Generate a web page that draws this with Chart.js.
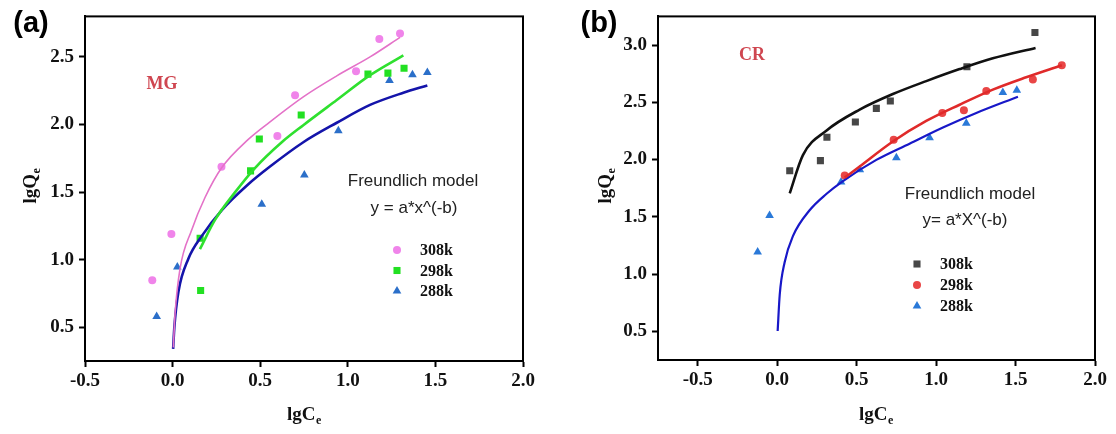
<!DOCTYPE html>
<html>
<head>
<meta charset="utf-8">
<script src="https://cdn.jsdelivr.net/npm/chart.js@4.4.0/dist/chart.umd.min.js"></script>
<style>
  html, body { margin: 0; padding: 0; background: #fff; }
  #wrapA { position: absolute; left: 0; top: 0; width: 556px; height: 434px; }
  #wrapB { position: absolute; left: 556px; top: 0; width: 560px; height: 434px; }
</style>
</head>
<body>
<div id="wrapA"><canvas id="chartA" width="556" height="434"></canvas></div>
<div id="wrapB"><canvas id="chartB" width="560" height="434"></canvas></div>
<script>
// ---- tick labels ----
const xTicks = [-0.5, 0.0, 0.5, 1.0, 1.5, 2.0];
const yTicksA = [0.5, 1.0, 1.5, 2.0, 2.5];
const yTicksB = [0.5, 1.0, 1.5, 2.0, 2.5, 3.0];

// ---- panel (a) MG : measured points ----
const mg308X = [-0.116, -0.007, 0.279, 0.598, 0.699, 1.047, 1.180, 1.298];
const mg308Y = [0.848, 1.189, 1.687, 1.915, 2.217, 2.395, 2.632, 2.673];
const mg298X = [0.160, 0.157, 0.445, 0.495, 0.734, 1.115, 1.229, 1.321];
const mg298Y = [0.772, 1.158, 1.657, 1.893, 2.070, 2.373, 2.380, 2.416];
const mg288X = [-0.091, 0.027, 0.509, 0.752, 0.946, 1.238, 1.369, 1.454];
const mg288Y = [0.579, 0.945, 1.410, 1.627, 1.954, 2.325, 2.368, 2.385];

// ---- panel (a) MG : fitted curves ----
const mgFit308X = [0.004, 0.014, 0.042, 0.109, 0.185, 0.280, 0.432, 0.556, 0.746, 0.937, 1.127, 1.298];
const mgFit308Y = [0.35, 0.60, 0.93, 1.22, 1.46, 1.68, 1.89, 2.02, 2.205, 2.36, 2.50, 2.645];
const mgFit298X = [0.156, 0.242, 0.356, 0.470, 0.623, 0.746, 0.937, 1.127, 1.317];
const mgFit298Y = [1.078, 1.294, 1.498, 1.678, 1.869, 1.995, 2.181, 2.365, 2.512];
const mgFit288X = [0.003, 0.010, 0.033, 0.090, 0.166, 0.280, 0.432, 0.556, 0.746, 0.937, 1.127, 1.317, 1.454];
const mgFit288Y = [0.34, 0.50, 0.76, 1.006, 1.174, 1.365, 1.558, 1.689, 1.869, 2.013, 2.145, 2.235, 2.289];

// ---- panel (b) CR : measured points ----
const cr308X = [0.079, 0.272, 0.313, 0.492, 0.624, 0.712, 1.194, 1.622];
const cr308Y = [1.903, 1.991, 2.195, 2.328, 2.447, 2.512, 2.810, 3.110];
const cr298X = [0.425, 0.733, 1.039, 1.175, 1.316, 1.609, 1.791];
const cr298Y = [1.861, 2.172, 2.407, 2.430, 2.598, 2.700, 2.824];
const cr288X = [-0.123, -0.048, 0.402, 0.520, 0.750, 0.959, 1.190, 1.420, 1.508];
const cr288Y = [1.194, 1.511, 1.805, 1.912, 2.016, 2.190, 2.317, 2.586, 2.606];

// ---- panel (b) CR : fitted curves ----
const crFit308X = [0.079, 0.162, 0.309, 0.519, 0.728, 0.938, 1.148, 1.357, 1.626];
const crFit308Y = [1.705, 2.039, 2.252, 2.436, 2.572, 2.685, 2.790, 2.884, 2.975];
const crFit298X = [0.425, 0.519, 0.728, 0.938, 1.148, 1.357, 1.567, 1.791];
const crFit298Y = [1.842, 1.940, 2.158, 2.337, 2.479, 2.611, 2.719, 2.824];
const crFit288X = [0.003, 0.016, 0.047, 0.099, 0.204, 0.309, 0.414, 0.624, 0.833, 1.043, 1.253, 1.515];
const crFit288Y = [0.503, 0.82, 1.104, 1.331, 1.557, 1.699, 1.812, 1.997, 2.139, 2.28, 2.407, 2.549];

const serif = "'Liberation Serif', 'Times New Roman', serif";
const sans = "'Liberation Sans', Arial, sans-serif";

function pts(xs, ys) {
    return xs.map((x, i) => ({ x: x, y: ys[i] }));
}

function marks(label, xs, ys, color, style, radius) {
    return {
        label: label,
        data: pts(xs, ys),
        showLine: false,
        pointStyle: style,
        pointRadius: radius,
        pointBackgroundColor: color,
        pointBorderColor: color,
        pointBorderWidth: 0,
        isMarks: true
    };
}

function fit(xs, ys, color, width) {
    return {
        label: "fit",
        data: pts(xs, ys),
        showLine: true,
        borderColor: color,
        borderWidth: width,
        pointRadius: 0,
        cubicInterpolationMode: "monotone",
        fill: false
    };
}

// draw one marker by hand for the legend
function drawMark(ctx, style, r, x, y, color) {
    ctx.fillStyle = color;
    ctx.beginPath();
    if (style === "circle") {
        ctx.arc(x, y, r, 0, Math.PI * 2);
    } else if (style === "rect") {
        const s = Math.SQRT1_2 * r;
        ctx.rect(x - s, y - s, 2 * s, 2 * s);
    } else {
        ctx.moveTo(x, y - r);
        ctx.lineTo(x + r * Math.sin(2 * Math.PI / 3), y + r * 0.5);
        ctx.lineTo(x - r * Math.sin(2 * Math.PI / 3), y + r * 0.5);
        ctx.closePath();
    }
    ctx.fill();
}

// text with subscript, e.g. lgQ + e
function subText(ctx, main, sub, x, y, rotate) {
    ctx.save();
    ctx.translate(x, y);
    if (rotate) ctx.rotate(-Math.PI / 2);
    ctx.font = "bold 19px " + serif;
    const w1 = ctx.measureText(main).width;
    ctx.font = "bold 12px " + serif;
    const w2 = ctx.measureText(sub).width;
    const start = -(w1 + w2) / 2;
    ctx.fillStyle = "#111";
    ctx.textBaseline = "alphabetic";
    ctx.textAlign = "left";
    ctx.font = "bold 19px " + serif;
    ctx.fillText(main, start, 6);
    ctx.font = "bold 12px " + serif;
    ctx.fillText(sub, start + w1 + 0.5, 10);
    ctx.restore();
}

const decor = {
    id: "decor",
    afterDraw(chart, args, o) {
        const ctx = chart.ctx;
        const a = chart.chartArea;
        ctx.save();
        // frame round the plot
        ctx.strokeStyle = "#000";
        ctx.lineWidth = 2;
        ctx.strokeRect(a.left, a.top, a.right - a.left, a.bottom - a.top);

        // free texts
        o.texts.forEach(t => {
            ctx.font = t.font;
            ctx.fillStyle = t.color;
            ctx.textAlign = "center";
            ctx.textBaseline = "middle";
            ctx.fillText(t.text, t.x, t.y);
        });

        // legend from the marker datasets
        let row = 0;
        chart.data.datasets.forEach(ds => {
            if (!ds.isMarks) return;
            const y = o.legend.y + row * o.legend.gap;
            drawMark(ctx, ds.pointStyle, ds.pointRadius, o.legend.x, y, ds.pointBackgroundColor);
            ctx.font = "bold 16px " + serif;
            ctx.fillStyle = "#111";
            ctx.textAlign = "left";
            ctx.textBaseline = "middle";
            ctx.fillText(ds.label, o.legend.x + 23, y + 1);
            row++;
        });

        // axis titles
        subText(ctx, "lgC", "e", o.xTitle.x, o.xTitle.y, false);
        subText(ctx, "lgQ", "e", o.yTitle.x, o.yTitle.y, true);
        ctx.restore();
    }
};

function scaleOpts(min, max, ticks, size, isX) {
    return {
        type: "linear",
        min: min,
        max: max,
        afterBuildTicks: s => { s.ticks = ticks.map(v => ({ value: v })); },
        afterFit: s => { if (isX) s.height = size; else s.width = size; },
        border: { display: true, color: "#000", width: 2 },
        grid: {
            display: true,
            drawOnChartArea: false,
            drawTicks: true,
            tickLength: 6,
            tickWidth: 2,
            tickColor: "#000",
            color: "#000"
        },
        ticks: {
            color: "#111",
            padding: isX ? 3 : 5,
            font: { family: serif, size: 19, weight: "bold" },
            callback: v => v.toFixed(1)
        }
    };
}

function makeChart(id, datasets, xMin, yMin, yMax, yTicks, yWidth, xHeight, pad, deco) {
    return new Chart(document.getElementById(id), {
        type: "scatter",
        data: { datasets: datasets },
        options: {
            responsive: false,
            animation: false,
            devicePixelRatio: 1,
            layout: { padding: pad },
            plugins: { legend: { display: false }, tooltip: { enabled: false }, decor: deco },
            scales: {
                x: scaleOpts(xMin, 2.0, xTicks, xHeight, true),
                y: scaleOpts(yMin, yMax, yTicks, yWidth, false)
            }
        },
        plugins: [decor]
    });
}

// ---- panel (a) ----
makeChart("chartA", [
    fit(mgFit308X, mgFit308Y, "#e472c8", 1.6),
    fit(mgFit298X, mgFit298Y, "#2fe02f", 2.6),
    fit(mgFit288X, mgFit288Y, "#1414aa", 2.6),
    marks("308k", mg308X, mg308Y, "#f084ea", "circle", 4),
    marks("298k", mg298X, mg298Y, "#22e022", "rect", 5),
    marks("288k", mg288X, mg288Y, "#2b6fc9", "triangle", 5)
], -0.5, 0.25, 2.8, yTicksA, 85, 73, { left: 0, right: 33, top: 8, bottom: 0 }, {
    texts: [
        { text: "(a)", x: 31, y: 24, font: "bold 29px " + sans, color: "#000" },
        { text: "MG", x: 162, y: 84, font: "bold 18px " + serif, color: "#cf4650" },
        { text: "Freundlich model", x: 413, y: 181, font: "17px " + sans, color: "#222" },
        { text: "y = a*x^(-b)", x: 414, y: 208, font: "17px " + sans, color: "#222" }
    ],
    legend: { x: 397, y: 250, gap: 20.5 },
    xTitle: { x: 304, y: 414 },
    yTitle: { x: 30, y: 186 }
});

// ---- panel (b) ----
makeChart("chartB", [
    fit(crFit308X, crFit308Y, "#111111", 2.6),
    fit(crFit298X, crFit298Y, "#e02a2a", 2.6),
    fit(crFit288X, crFit288Y, "#1818c8", 2.2),
    marks("308k", cr308X, cr308Y, "#474747", "rect", 5),
    marks("298k", cr298X, cr298Y, "#e94646", "circle", 4),
    marks("288k", cr288X, cr288Y, "#2a79d8", "triangle", 5)
], -0.75, 0.25, 3.25, yTicksB, 102, 74, { left: 0, right: 21, top: 8, bottom: 0 }, {
    texts: [
        { text: "(b)", x: 43, y: 24, font: "bold 29px " + sans, color: "#000" },
        { text: "CR", x: 196, y: 55, font: "bold 18px " + serif, color: "#cf4650" },
        { text: "Freundlich model", x: 414, y: 194, font: "17px " + sans, color: "#222" },
        { text: "y= a*X^(-b)", x: 409, y: 220, font: "17px " + sans, color: "#222" }
    ],
    legend: { x: 361, y: 264, gap: 21 },
    xTitle: { x: 320, y: 414 },
    yTitle: { x: 49, y: 186 }
});
</script>
</body>
</html>
